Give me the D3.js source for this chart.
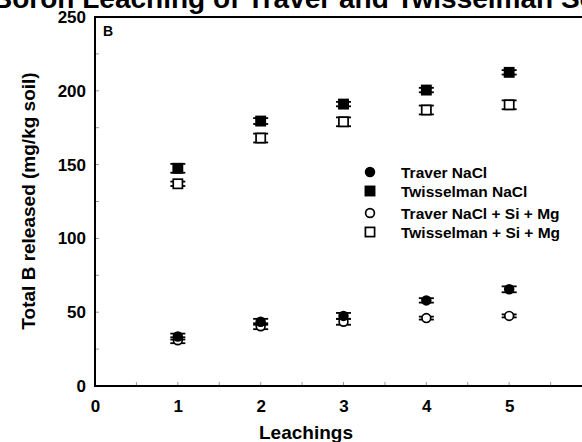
<!DOCTYPE html>
<html><head><meta charset="utf-8">
<script src="https://cdn.jsdelivr.net/npm/d3@7"></script>
<style>body{margin:0;background:#fff}svg{display:block}text{font-family:"Liberation Sans",Arial,sans-serif;font-weight:bold}</style>
</head><body><svg id="c" width="582" height="442"></svg>
<script>
const leachings = [1, 2, 3, 4, 5];
const traverNaCl = [33.5, 43.5, 47.5, 58, 65.5];
const traverNaClErr = [2, 2, 2, 1.5, 2];
const twisNaCl = [147.5, 179.5, 191, 200.5, 212.5];
const twisNaClErr = [3, 2, 1.5, 1.5, 1.5];
const traverSiMg = [31, 40.5, 43.5, 46, 47.5];
const traverSiMgErr = [2, 2, 2, 1, 1];
const twisSiMg = [137, 168, 179, 187, 190.5];
const twisSiMgErr = [1.5, 3, 3, 3, 3];
const seriesNames = ["Traver NaCl", "Twisselman NaCl", "Traver NaCl + Si + Mg", "Twisselman + Si + Mg"];
const xTicks = [0, 1, 2, 3, 4, 5];
const yTicks = [0, 50, 100, 150, 200, 250];

const svg = d3.select("#c");
const x = d3.scaleLinear().domain([0, 6]).range([95, 592]);
const y = d3.scaleLinear().domain([0, 250]).range([386, 17]);

svg.append("text").attr("x", -8).attr("y", 8).attr("font-size", 28).text("Boron Leaching of Traver and Twisselman Soils");

// minor ticks
const g = svg.append("g");
g.selectAll(".xt").data(d3.range(0.5, 6, 0.5)).join("line")
  .attr("x1", d => x(d)).attr("x2", d => x(d)).attr("y1", 386).attr("y2", 382)
  .attr("stroke", "#999").attr("stroke-width", 1);
g.selectAll(".yt").data(d3.range(25, 250, 25)).join("line")
  .attr("x1", 95).attr("x2", 99).attr("y1", d => y(d)).attr("y2", d => y(d))
  .attr("stroke", "#999").attr("stroke-width", 1);

// frame
svg.append("path").attr("d", `M${x(6)},${y(250)}H${x(0)}V${y(0)}H${x(6)}`)
  .attr("fill", "none").attr("stroke", "#000").attr("stroke-width", 2);

// tick labels via axes
const xa = svg.append("g").attr("transform", `translate(0,${y(0)})`)
  .call(d3.axisBottom(x).tickValues(xTicks).tickSize(0).tickPadding(14).tickFormat(d3.format("d")));
xa.select(".domain").remove();
xa.selectAll("text").attr("font-size", 17).attr("font-family", "Liberation Sans, Arial").attr("font-weight", "bold").attr("fill", "#000");
const ya = svg.append("g").attr("transform", `translate(${x(0)},0)`)
  .call(d3.axisLeft(y).tickValues(yTicks).tickSize(0).tickPadding(9).tickFormat(d3.format("d")));
ya.select(".domain").remove();
ya.selectAll("text").attr("font-size", 17).attr("font-family", "Liberation Sans, Arial").attr("font-weight", "bold").attr("fill", "#000");

svg.append("text").attr("x", 306).attr("y", 439).attr("text-anchor", "middle").attr("font-size", 19).text("Leachings");
svg.append("text").attr("transform", "translate(35,201) rotate(-90)").attr("text-anchor", "middle").attr("font-size", 19).text("Total B released (mg/kg soil)");
svg.append("text").attr("x", 103).attr("y", 36).attr("font-size", 14).text("B");

const series = [
  {vals: traverNaCl, err: traverNaClErr, shape: "circle", fill: "#000"},
  {vals: twisNaCl, err: twisNaClErr, shape: "square", fill: "#000"},
  {vals: traverSiMg, err: traverSiMgErr, shape: "circle", fill: "#fff"},
  {vals: twisSiMg, err: twisSiMgErr, shape: "square", fill: "#fff"}
];

function marker(sel, shape, fill, cx, cy) {
  if (shape === "circle") {
    sel.append("circle").attr("cx", cx).attr("cy", cy).attr("r", 4.4)
      .attr("fill", fill).attr("stroke", "#000").attr("stroke-width", 1.7);
  } else {
    sel.append("rect").attr("x", cx - 4.6).attr("y", cy - 4.6).attr("width", 9.2).attr("height", 9.2)
      .attr("fill", fill).attr("stroke", "#000").attr("stroke-width", 1.7);
  }
}

// draw open series first then filled
[2, 3, 0, 1].forEach(i => {
  const s = series[i];
  const gg = svg.append("g");
  leachings.forEach((L, j) => {
    const cx = x(L), v = s.vals[j], e = s.err[j];
    gg.append("line").attr("x1", cx).attr("x2", cx).attr("y1", y(v - e)).attr("y2", y(v + e)).attr("stroke", "#000").attr("stroke-width", 1.5);
    [v - e, v + e].forEach(b => gg.append("line").attr("x1", cx - 7.5).attr("x2", cx + 7.5).attr("y1", y(b)).attr("y2", y(b)).attr("stroke", "#000").attr("stroke-width", 1.8));
    marker(gg, s.shape, s.fill, cx, y(v));
  });
});

// legend
const legY = [172, 191, 213, 232];
const lg = svg.append("g");
series.forEach((s, i) => {
  marker(lg, s.shape, s.fill, 370, legY[i]);
  lg.append("text").attr("x", 401).attr("y", legY[i] + 5.5).attr("font-size", 15.5).text(seriesNames[i]);
});
</script></body></html>
